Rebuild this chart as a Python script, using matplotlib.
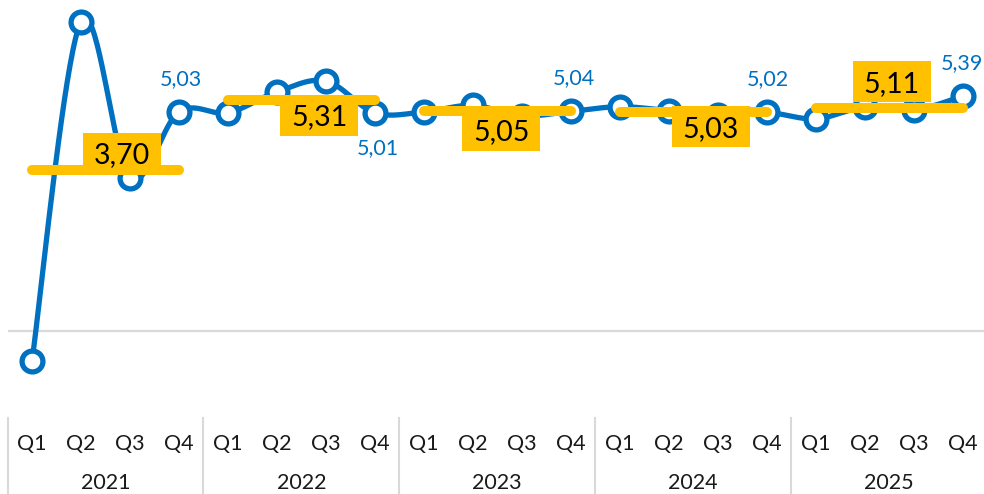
import numpy as np
import matplotlib
matplotlib.use("Agg")
import matplotlib.pyplot as plt
from matplotlib.patches import Rectangle
from matplotlib.transforms import ScaledTranslation, blended_transform_factory

plt.rcParams['font.family'] = ['Lato', 'DejaVu Sans']

# ---------------- data ----------------
years = ["2021", "2022", "2023", "2024", "2025"]
quarters = ["Q1", "Q2", "Q3", "Q4"]
values = [-0.69, 7.10, 3.52, 5.03,
          5.01, 5.49, 5.74, 5.01,
          5.03, 5.18, 4.94, 5.04,
          5.15, 5.06, 4.97, 5.02,
          4.87, 5.14, 5.07, 5.39]
year_avgs = [3.70, 5.31, 5.05, 5.03, 5.11]
avg_labels = ["3,70", "5,31", "5,05", "5,03", "5,11"]
q4_labels = ["5,03", "5,01", "5,04", "5,02", "5,39"]

# ---------------- style ----------------
BLUE = "#0070C0"
YELLOW = "#FFC000"
GRID = "#D9D9D9"
TEXT = "#1a1a1a"
DPI = 100

# label box offsets from the centre of each average line (pixels, +y = down)
avg_label_offsets = [(16.5, -16.7), (17.7, 15.5), (4.2, 19.1), (17.8, 14.7), (2.5, -26.5)]
# Q4 label offsets (pixels, +y = down) relative to marker
q4_label_offsets = [(2, -35), (3, 34), (3, -35), (1, -35), (-1, -35)]

W, H = 984, 494
fig = plt.figure(figsize=(W / DPI, H / DPI), dpi=DPI)
left_px, right_px, top_px, bottom_px = 7.5, 987.0, 0.0, 418.0
ax = fig.add_axes([left_px / W, (H - bottom_px) / H,
                   (right_px - left_px) / W, (bottom_px - top_px) / H])

n = len(values)
x = np.arange(n, dtype=float)
y = np.array(values, dtype=float)

ax.set_xlim(-0.5, n - 0.5)
ax.set_ylim(-2, 7.60)
ax.axis("off")

# zero gridline
ax.axhline(0, color=GRID, lw=1.6, zorder=1)

# smoothed line (Catmull-Rom / Excel-like smoothing)
P = np.column_stack([x, y])
curve = []
for i in range(n - 1):
    p0 = P[i - 1] if i > 0 else P[i]
    p1 = P[i]
    p2 = P[i + 1]
    p3 = P[i + 2] if i + 2 < n else P[i + 1]
    m1 = (p2 - p0) / 2.0 if i > 0 else (p2 - p1) / 2.0
    m2 = (p3 - p1) / 2.0 if i + 2 < n else (p2 - p1) / 2.0
    t = np.linspace(0, 1, 40)[:, None]
    h00 = 2 * t**3 - 3 * t**2 + 1
    h10 = t**3 - 2 * t**2 + t
    h01 = -2 * t**3 + 3 * t**2
    h11 = t**3 - t**2
    seg = h00 * p1 + h10 * m1 + h01 * p2 + h11 * m2
    curve.append(seg if i == 0 else seg[1:])
curve = np.vstack(curve)
ax.plot(curve[:, 0], curve[:, 1], color=BLUE, lw=3.8, zorder=2,
        solid_capstyle="round", solid_joinstyle="round")
ax.plot(x, y, linestyle="none", marker="o", ms=15, mew=3.8,
        mfc="white", mec=BLUE, zorder=3)

# yearly average bars with labels
AVG_FS = 20.5
for k, (avg, lab) in enumerate(zip(year_avgs, avg_labels)):
    x0, x1 = 4 * k, 4 * k + 3
    ax.plot([x0, x1], [avg, avg], color=YELLOW, lw=7.2,
            solid_capstyle="round", zorder=4)
    xc = (x0 + x1) / 2.0
    dx, dy = avg_label_offsets[k]
    rect_tr = fig.dpi_scale_trans + ScaledTranslation(xc, avg, ax.transData)
    bw, bh = 78, 41
    ax.add_patch(Rectangle(((dx - bw / 2) / DPI, (-dy - bh / 2) / DPI),
                           bw / DPI, bh / DPI, transform=rect_tr,
                           facecolor=YELLOW, edgecolor="none", zorder=5,
                           clip_on=False))
    half = AVG_FS * DPI / 72 * 0.7165 / 2
    txt_tr = ax.transData + ScaledTranslation(dx / DPI, (-dy - half) / DPI,
                                              fig.dpi_scale_trans)
    ax.text(xc, avg, lab, transform=txt_tr, ha="center", va="baseline",
            fontsize=AVG_FS, color="black", zorder=6)

# Q4 data labels
LBL_FS = 15.5
for k, lab in enumerate(q4_labels):
    i = 4 * k + 3
    dx, dy = q4_label_offsets[k]
    half = LBL_FS * DPI / 72 * 0.7165 / 2
    tr = ax.transData + ScaledTranslation(dx / DPI, (-dy - half) / DPI,
                                          fig.dpi_scale_trans)
    ax.text(x[i], y[i], lab, transform=tr, ha="center", va="baseline",
            fontsize=LBL_FS, color=BLUE, zorder=7)

# multi-level category axis
btr = blended_transform_factory(ax.transData, ax.transAxes)
axis_h = bottom_px - top_px
for k in range(len(years) + 1):
    xb = 4 * k - 0.5
    ax.plot([xb, xb], [0, -(H - bottom_px) / axis_h], transform=btr,
            color=GRID, lw=1.5, clip_on=False, zorder=1)
for i in range(n):
    ax.text(x[i], -(444 - bottom_px) / axis_h, quarters[i % 4], transform=btr,
            ha="center", va="center", fontsize=15.5, color=TEXT)
for k, yr in enumerate(years):
    ax.text(4 * k + 1.5, -(483 - bottom_px) / axis_h, yr, transform=btr,
            ha="center", va="center", fontsize=15.5, color=TEXT)

fig.savefig("out.png", dpi=DPI)
